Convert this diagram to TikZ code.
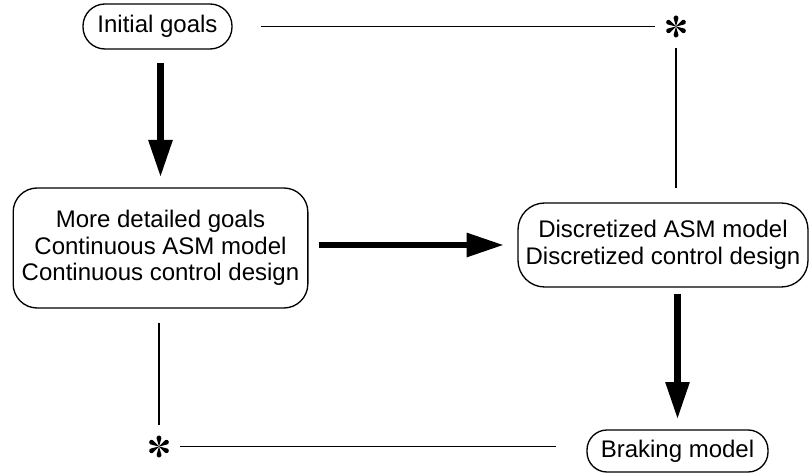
\documentclass[tikz,border=0pt]{standalone}
\usepackage{fontspec}
\setmainfont{Liberation Sans}
\usetikzlibrary{arrows.meta}

\tikzset{
  goalbox/.style={draw, line width=1pt, align=center, inner sep=0pt, font=\fontsize{18}{20}\selectfont},
  thinlink/.style={line width=1.2pt},
  bigarrow/.style={line width=5pt, -{Triangle[length=28pt,width=17pt]}},
  starmark/.style={inner sep=0pt, minimum width=31.5pt, minimum height=31.5pt}
}

\begin{document}
\begin{tikzpicture}[x=0.75pt,y=-0.75pt]
\useasboundingbox (0,0) rectangle (809,473);
\node[goalbox, minimum width=111.75pt, minimum height=33.75pt, rounded corners=16.5pt] (init) at (157.5,26.5) {Initial goals};
\node[goalbox, minimum width=221pt, minimum height=90pt, rounded corners=18pt] (more) at (160.5,248) {More detailed goals\\Continuous ASM model\\Continuous control design};
\node[goalbox, minimum width=217.5pt, minimum height=63pt, rounded corners=20pt] (disc) at (663,245) {Discretized ASM model\\Discretized control design};
\node[goalbox, minimum width=135.75pt, minimum height=31.5pt, rounded corners=15pt] (brake) at (677.5,451) {Braking model};
\node[starmark] (ast1) at (676,26.5) {};
\node[starmark] (ast2) at (159,446.5) {};
\foreach \n in {ast1,ast2}
  \foreach \a in {30,90,...,330}
    \fill[shift={(\n.center)}, rotate=\a] (0,0) -- (7.93,2.3) arc[start angle=106.2, end angle=-106.2, radius=2.4] -- cycle;

\draw[thinlink] (init.east) ++(28,0) -- (ast1.west);
\draw[thinlink, shorten >=11pt] (ast1.south) -- (ast1 |- disc.north);
\draw[bigarrow, shorten <=10pt, shorten >=7.5pt] (init.south -| more) -- (more.north);
\draw[bigarrow, shorten <=7.5pt, shorten >=10pt] (more.east |- disc) -- (disc.west);
\draw[bigarrow, shorten <=4.5pt, shorten >=7.5pt] (disc.south -| brake) -- (brake.north);
\draw[thinlink, shorten <=10.5pt] (more.south -| ast2) -- (ast2.north);
\draw[thinlink, shorten >=22.5pt] (ast2.east) -- (ast2 -| brake.west);
\end{tikzpicture}
\end{document}
